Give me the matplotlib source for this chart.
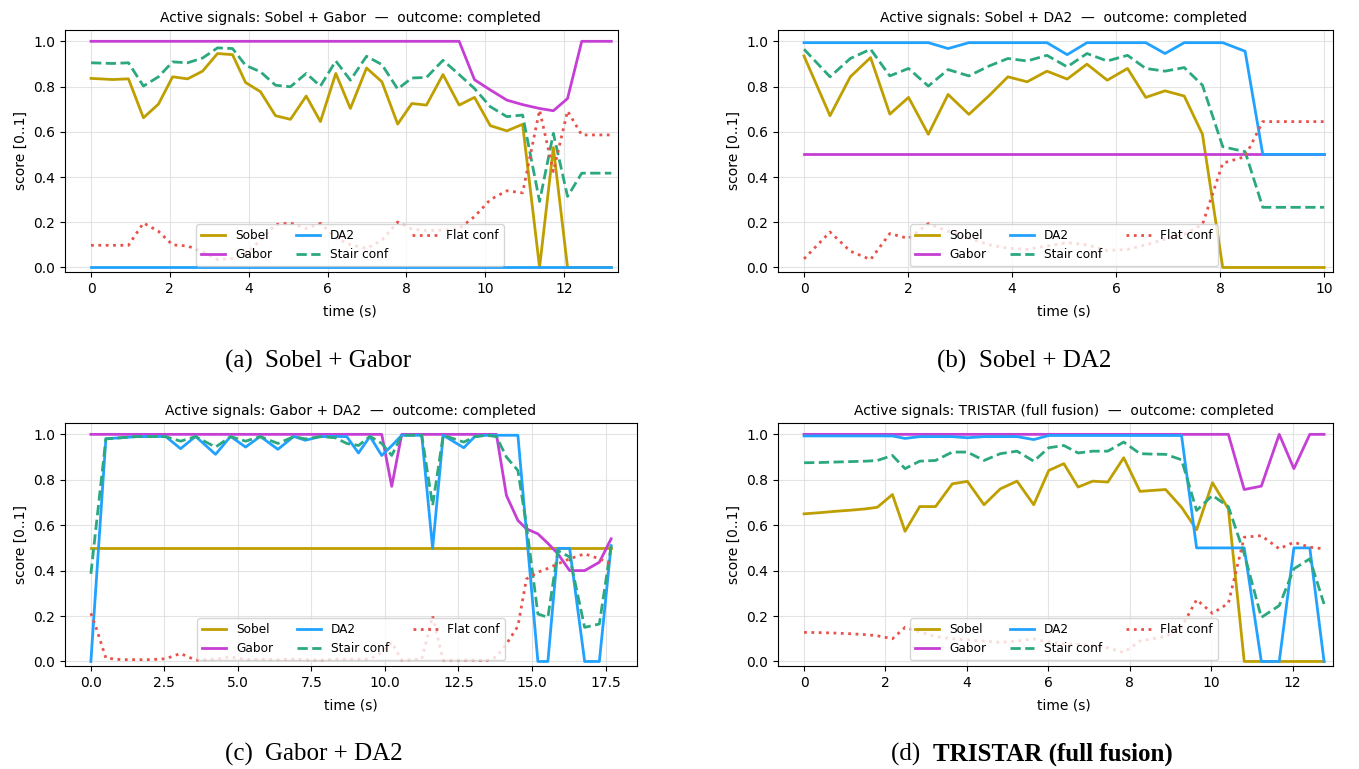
import matplotlib
matplotlib.use("Agg")
import matplotlib.pyplot as plt

# ---------------- data ----------------
series_names = ["Sobel", "Gabor", "DA2", "Stair conf", "Flat conf"]

# (a) Sobel + Gabor
t_a = [0, 0.55, 0.95, 1.33, 1.71, 2.07, 2.45, 2.83, 3.21, 3.59, 3.92, 4.30, 4.68, 5.06, 5.46, 5.82,
       6.21, 6.58, 6.99, 7.38, 7.78, 8.14, 8.51, 8.93, 9.34, 9.73, 10.13, 10.55, 10.95, 11.38, 11.73,
       12.09, 12.45, 12.83, 13.2]
sobel_a = [.836, .831, .834, .662, .722, .843, .834, .868, .946, .941, .818, .777, .671, .655, .758, .645,
           .858, .703, .882, .821, .634, .725, .718, .853, .718, .752, .627, .604, .633, 0, .53, 0, 0, 0, 0]
gabor_a = [1.0] * 25 + [.83, .785, .74, .72, .703, .693, .747, 1.0, 1.0, 1.0]
da2_a = [0.0] * 35
stair_a = [.905, .902, .905, .802, .843, .909, .905, .926, .971, .968, .894, .865, .806, .799, .858, .802,
           .913, .828, .934, .897, .789, .838, .840, .916, .853, .791, .711, .667, .674, .292, .593, .314,
           .417, .417, .417]
flat_a = [.098, .098, .098, .197, .16, .10, .095, .07, .035, .04, .06, .12, .19, .197, .172, .195,
          .131, .101, .084, .12, .201, .17, .163, .165, .172, .225, .30, .339, .33, .696, .424, .692,
          .586, .586, .586]

# (b) Sobel + DA2
t_b = [0, 0.50, 0.89, 1.28, 1.65, 2.01, 2.39, 2.77, 3.17, 3.56, 3.92, 4.29, 4.67, 5.06, 5.44, 5.83,
       6.22, 6.57, 6.94, 7.31, 7.66, 8.05, 8.48, 8.82, 9.2, 9.6, 10.0]
sobel_b = [.935, .671, .843, .928, .678, .752, .589, .765, .677, .76, .843, .821, .868, .833, .899, .828,
           .88, .752, .781, .758, .589, 0, 0, 0, 0, 0, 0]
gabor_b = [0.5] * 27
da2_b = [.994] * 7 + [.968] + [.994] * 5 + [.941] + [.994] * 4 + [.946] + [.994] * 3 + [.956] + [.5] * 4
stair_b = [.965, .843, .924, .965, .847, .880, .802, .875, .847, .891, .924, .913, .938, .887, .946, .913,
           .938, .880, .868, .884, .806, .534, .512, .266, .266, .266, .266]
flat_b = [.038, .157, .072, .035, .150, .128, .194, .16, .13, .10, .085, .08, .095, .11, .10, .075,
          .08, .10, .125, .146, .19, .461, .49, .645, .645, .645, .645]

# (c) Gabor + DA2
t_c = [0, 0.2, 0.51, 1.02, 1.53, 2.03, 2.54, 3.05, 3.56, 4.24, 4.75, 5.26, 5.76, 6.36, 6.9, 7.29, 7.8,
       8.31, 8.7, 9.10, 9.49, 9.89, 10.23, 10.57, 11.25, 11.62, 11.98, 12.68, 13.06, 13.45, 13.79,
       14.13, 14.52, 14.81, 15.2, 15.54, 15.88, 16.28, 16.79, 17.29, 17.69]
sobel_c = [0.5] * 41
gabor_c = [1.0] * 22 + [.771] + [1.0] * 8 + [.731, .621, .584, .562, .52, .474, .40, .40, .437, .54]
da2_c = [0, .385, .981, .985, .99, .99, .991, .937, .991, .912, .991, .944, .991, .934, .991, .974, .99,
         .991, .99, .918, .991, .907, .95, .996, .996, .498, .996, .941, .991, .996, .996, .996, .996,
         .57, 0, 0, .498, .498, 0, 0, .51]
stair_c = [.386, .62, .98, .985, .99, .99, .99, .97, .99, .944, .99, .97, .99, .96, .99, .98, .99,
           .985, .96, .951, .991, .96, .907, .996, .996, .687, .996, .966, .99, .996, .99, .90, .841,
           .60, .209, .194, .488, .46, .150, .165, .51]
flat_c = [.212, .14, .015, .008, .008, .008, .012, .035, .006, .01, .02, .008, .01, .008, .01, .008,
          .006, .01, .01, .01, .01, .04, .084, .006, .01, .20, .006, .006, .006, .004, .02, .077, .155,
          .363, .393, .41, .43, .452, .474, .452, .43]

# (d) TRISTAR (full fusion)
t_d = [0, 0.38, 0.76, 1.14, 1.52, 1.80, 2.17, 2.48, 2.84, 3.23, 3.64, 4.01, 4.42, 4.82, 5.23, 5.64,
       6.01, 6.38, 6.73, 7.09, 7.46, 7.85, 8.25, 8.55, 8.88, 9.27, 9.64, 10.03, 10.42, 10.81, 11.23,
       11.67, 12.03, 12.42, 12.77]
sobel_d = [.650, .655, .661, .666, .672, .679, .735, .573, .682, .682, .782, .793, .690, .760, .794, .690,
           .841, .871, .768, .794, .790, .897, .749, .753, .757, .679, .580, .787, .672, 0, 0, 0, 0, 0, 0]
gabor_d = [1.0] * 29 + [.757, .772, 1.0, .849, 1.0, 1.0]
da2_d = [.993] * 7 + [.982] + [.99, .99, .99, .985, .99, .99, .99] + [.977] + [.995] * 10 + [.5] * 4 \
        + [0, 0, .5, .5, 0]
stair_d = [.875, .876, .878, .88, .882, .885, .907, .849, .882, .885, .922, .922, .885, .915, .926, .882,
           .941, .951, .918, .926, .926, .966, .915, .913, .912, .888, .665, .731, .682, .474, .194, .246,
           .408, .452, .253]
flat_d = [.128, .127, .125, .122, .118, .113, .10, .15, .13, .11, .10, .095, .09, .084, .09, .099,
          .085, .077, .075, .07, .06, .04, .09, .10, .11, .15, .272, .212, .256, .547, .554, .496,
          .525, .503, .496]

titles = ["Active signals: Sobel + Gabor  \u2014  outcome: completed",
          "Active signals: Sobel + DA2  \u2014  outcome: completed",
          "Active signals: Gabor + DA2  \u2014  outcome: completed",
          "Active signals: TRISTAR (full fusion)  \u2014  outcome: completed"]
caption_prefix = ["(a)", "(b)", "(c)", "(d)"]
caption_text = ["Sobel + Gabor", "Sobel + DA2", "Gabor + DA2", "TRISTAR (full fusion)"]

panels = [
    (t_a, [sobel_a, gabor_a, da2_a, stair_a, flat_a]),
    (t_b, [sobel_b, gabor_b, da2_b, stair_b, flat_b]),
    (t_c, [sobel_c, gabor_c, da2_c, stair_c, flat_c]),
    (t_d, [sobel_d, gabor_d, da2_d, stair_d, flat_d]),
]

# ---------------- style ----------------
colors = ["#bf9f00", "#c63fd4", "#22a2ff", "#2ba880", "#e8524a"]
styles = ["-", "-", "-", "--", ":"]

W, H = 1359, 769
fig = plt.figure(figsize=(W / 100, H / 100), dpi=100)
plt.rcParams["font.family"] = ["DejaVu Sans"]

# axes boxes in pixels (left, top, right, bottom), x-limits, and centre of title/legend
boxes = [(65, 30, 618, 272), (778, 30, 1333, 272), (65, 423, 637, 666), (778, 423, 1333, 666)]
xlims = [(-0.66, 13.37), (-0.5, 10.17), (-0.88, 18.57), (-0.64, 12.99)]
centers = [350, 1064, 351, 1064]
# split point between caption label and caption text (pixels)
caption_pos = [(265, 361), (979, 361), (265, 754), (933, 754)]

for i, ((t, ys), (l, tp, r, b)) in enumerate(zip(panels, boxes)):
    ax = fig.add_axes([l / W, 1 - b / H, (r - l) / W, (b - tp) / H])
    for name, y, c, ls in zip(series_names, ys, colors, styles):
        ax.plot(t, y, color=c, linestyle=ls, linewidth=2.0, label=name)
    ax.set_xlim(*xlims[i])
    ax.set_ylim(-0.02, 1.05)
    ax.set_yticks([0.0, 0.2, 0.4, 0.6, 0.8, 1.0])
    ax.grid(True, color="#dddddd", linewidth=0.8, alpha=0.8)
    ax.set_axisbelow(True)
    cfrac = (centers[i] - l) / (r - l)
    ax.set_title(titles[i], fontsize=10, pad=6, x=cfrac)
    ax.set_xlabel("time (s)", fontsize=10, labelpad=6)
    ax.xaxis.label.set_x(cfrac)
    ax.set_ylabel("score [0..1]", fontsize=10)
    ax.tick_params(labelsize=10)
    ax.legend(loc="lower center", bbox_to_anchor=(cfrac, 0.0), ncol=3, fontsize=8.7,
              framealpha=0.8)
    cx, cy = caption_pos[i]
    weight = "bold" if i == 3 else "normal"
    fig.text(cx / W, 1 - cy / H, caption_prefix[i] + "  ", fontsize=18,
             family="Liberation Serif", ha="right", va="center")
    fig.text(cx / W, 1 - cy / H, caption_text[i], fontsize=18,
             family="Liberation Serif", ha="left", va="center", fontweight=weight)

fig.savefig("out.png", dpi=100)
